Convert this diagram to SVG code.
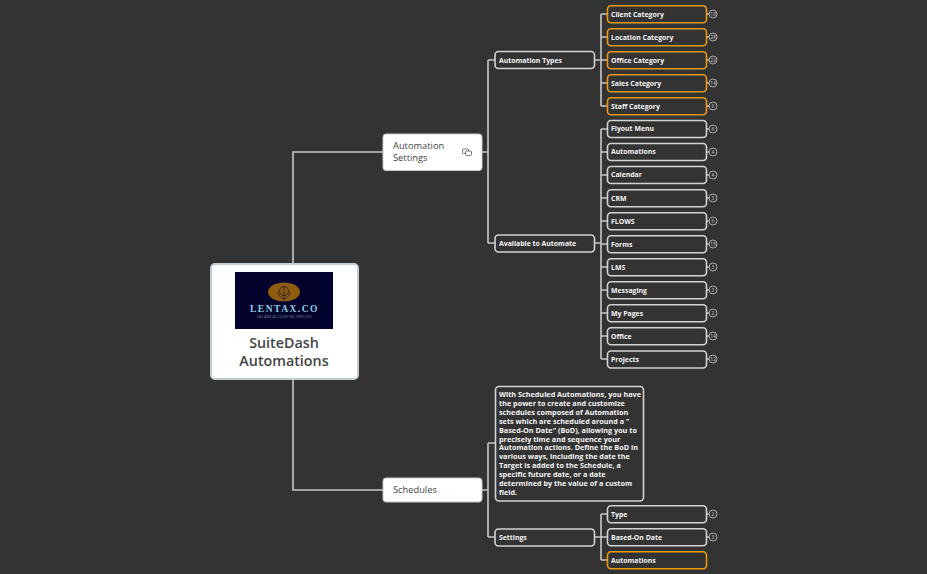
<svg xmlns="http://www.w3.org/2000/svg" width="927" height="574" viewBox="0 0 927 574">
<style>
text{font-family:"Open Sans","Noto Sans",sans-serif}
.c{fill:none;stroke:#c8c8c8;stroke-width:1.6}
.n{fill:#333;stroke:#d4d4d4;stroke-width:1.6}
.o{fill:#333;stroke:#f09a10;stroke-width:1.6}
.t{fill:#f6f6f6;font-size:6.9px;font-weight:700}
.d{fill:#f6f6f6;font-size:7.25px;font-weight:700}
.w{fill:#fff;stroke:#c8c8c8;stroke-width:1}
.m{fill:#444;font-size:9.3px}
.b{fill:#333;stroke:#c8c8c8;stroke-width:.8}
.bt{fill:#c8c8c8;font-size:5px;text-anchor:middle}
</style>
<rect width="927" height="574" fill="#333"/>
<g id="connectors" class="c">
<path d="M293 264V152H383M293 379V490H383"/>
<path d="M482 152H488M488 60V243M488 60H495M488 243H495"/>
<path d="M482 490H488M488 443V537M488 443H495M488 537H495"/>
<path d="M594 60H601M601 14V106M601 14H607M601 37H607M601 60H607M601 83H607M601 106H607"/>
<path d="M594 243H601M601 129V359M601 129H607M601 152H607M601 175H607M601 198H607M601 221H607M601 244H607M601 267H607M601 290H607M601 313H607M601 336H607M601 359H607"/>
<path d="M594 537H601M601 514V560M601 514H607M601 537H607M601 560H607"/>
<path d="M706 14H709M706 37H709M706 60H709M706 83H709M706 106H709M706 129H709M706 152H709M706 175H709M706 198H709M706 221H709M706 244H709M706 267H709M706 290H709M706 313H709M706 336H709M706 359H709M706 514H709M706 537H709"/>
</g>
<g id="root">
<rect x="211" y="264" width="147" height="115" rx="4" fill="#fff" stroke="#c4ccd4" stroke-width="2"/>
<rect x="235" y="272" width="98" height="57" fill="#03032e"/>
<ellipse cx="284" cy="292" rx="16" ry="9.500" fill="#8f5c0e"/>
<g fill="none" stroke="#1c1c3a" stroke-width=".8"><circle cx="284" cy="291" r="4.500"/><path d="M284 287V301M278 292C279 297 282 298 284 299C286 298 289 297 290 292"/></g>
<text x="284.500" y="311.500" font-size="9.500" fill="#8fd0e0" text-anchor="middle" style="font-family:'Liberation Serif',serif" font-weight="700" letter-spacing="1.500">LENTAX.CO</text>
<text x="284.500" y="317.500" font-size="2.600" fill="#8fa0b0" text-anchor="middle" letter-spacing=".55">TAX AND ACCOUNTING SERVICES</text>
<text x="284" y="348" font-size="14.300" font-weight="600" fill="#444" text-anchor="middle">SuiteDash</text>
<text x="284" y="366" font-size="14.300" font-weight="600" fill="#444" text-anchor="middle">Automations</text>
</g>
<g id="automation-settings">
<rect class="w" x="383" y="134" width="99" height="36.500" rx="3"/>
<text class="m" x="393" y="149.300">Automation</text>
<text class="m" x="393" y="161">Settings</text>
<g fill="none" stroke="#555" stroke-width=".8"><rect x="462.500" y="149" width="6" height="4.500" rx="1"/><rect x="465.500" y="151" width="6" height="4.500" rx="1" fill="#fff"/></g>
</g>
<g id="schedules">
<rect class="w" x="383" y="478" width="99" height="24" rx="3"/>
<text class="m" x="393" y="493.200">Schedules</text>
</g>
<g id="automation-types"><rect class="n" x="495" y="51.500" width="99.500" height="17" rx="3.500"/><text class="t" x="499" y="62.500">Automation Types</text></g>
<g id="available"><rect class="n" x="495" y="235" width="99.500" height="17" rx="3.500"/><text class="t" x="499" y="246">Available to Automate</text></g>
<g id="settings"><rect class="n" x="495" y="529" width="99.500" height="17" rx="3.500"/><text class="t" x="499" y="540">Settings</text></g>
<g id="description">
<rect class="n" x="495.500" y="386.500" width="148" height="114.500" rx="3.500"/>
<g class="d"><text x="499" y="397">With Scheduled Automations, you have</text>
<text x="499" y="406">the power to create and customize</text>
<text x="499" y="414.800">schedules composed of Automation</text>
<text x="499" y="423.700">sets which are scheduled around a "</text>
<text x="499" y="432.600">Based-On Date" (BoD), allowing you to</text>
<text x="499" y="441.500">precisely time and sequence your</text>
<text x="499" y="450.400">Automation actions. Define the BoD in</text>
<text x="499" y="459.300">various ways, including the date the</text>
<text x="499" y="468.200">Target is added to the Schedule, a</text>
<text x="499" y="477">specific future date, or a date</text>
<text x="499" y="486">determined by the value of a custom</text>
<text x="499" y="494.800">field.</text></g>
</g>
<g id="client"><rect class="o" x="607.500" y="5.800" width="99" height="17" rx="3.500"/><text class="t" x="611" y="16.600">Client Category</text><circle class="b" cx="713" cy="14" r="4"/><text class="bt" x="713" y="15.800">18</text></g>
<g id="location"><rect class="o" x="607.500" y="28.800" width="99" height="17" rx="3.500"/><text class="t" x="611" y="39.600">Location Category</text><circle class="b" cx="713" cy="37" r="4"/><text class="bt" x="713" y="38.800">28</text></g>
<g id="office-cat"><rect class="o" x="607.500" y="51.800" width="99" height="17" rx="3.500"/><text class="t" x="611" y="62.600">Office Category</text><circle class="b" cx="713" cy="60" r="4"/><text class="bt" x="713" y="61.800">22</text></g>
<g id="sales"><rect class="o" x="607.500" y="74.800" width="99" height="17" rx="3.500"/><text class="t" x="611" y="85.600">Sales Category</text><circle class="b" cx="713" cy="83" r="4"/><text class="bt" x="713" y="84.800">14</text></g>
<g id="staff"><rect class="o" x="607.500" y="97.800" width="99" height="17" rx="3.500"/><text class="t" x="611" y="108.600">Staff Category</text><circle class="b" cx="713" cy="106" r="4"/><text class="bt" x="713" y="107.800">6</text></g>
<g id="flyout"><rect class="n" x="607.500" y="120.500" width="99" height="17" rx="3.500"/><text class="t" x="611" y="131.300">Flyout Menu</text><circle class="b" cx="713" cy="129" r="4"/><text class="bt" x="713" y="130.800">6</text></g>
<g id="automations"><rect class="n" x="607.500" y="143.500" width="99" height="17" rx="3.500"/><text class="t" x="611" y="154.300">Automations</text><circle class="b" cx="713" cy="152" r="4"/><text class="bt" x="713" y="153.800">4</text></g>
<g id="calendar"><rect class="n" x="607.500" y="166.500" width="99" height="17" rx="3.500"/><text class="t" x="611" y="177.300">Calendar</text><circle class="b" cx="713" cy="175" r="4"/><text class="bt" x="713" y="176.800">4</text></g>
<g id="crm"><rect class="n" x="607.500" y="189.700" width="99" height="17" rx="3.500"/><text class="t" x="611" y="200.500">CRM</text><circle class="b" cx="713" cy="198" r="4"/><text class="bt" x="713" y="199.800">3</text></g>
<g id="flows"><rect class="n" x="607.500" y="212.700" width="99" height="17" rx="3.500"/><text class="t" x="611" y="223.500">FLOWS</text><circle class="b" cx="713" cy="221" r="4"/><text class="bt" x="713" y="222.800">6</text></g>
<g id="forms"><rect class="n" x="607.500" y="235.700" width="99" height="17" rx="3.500"/><text class="t" x="611" y="246.500">Forms</text><circle class="b" cx="713" cy="244" r="4"/><text class="bt" x="713" y="245.800">15</text></g>
<g id="lms"><rect class="n" x="607.500" y="258.700" width="99" height="17" rx="3.500"/><text class="t" x="611" y="269.600">LMS</text><circle class="b" cx="713" cy="267" r="4"/><text class="bt" x="713" y="268.800">3</text></g>
<g id="messaging"><rect class="n" x="607.500" y="281.800" width="99" height="17" rx="3.500"/><text class="t" x="611" y="292.600">Messaging</text><circle class="b" cx="713" cy="290" r="4"/><text class="bt" x="713" y="291.800">3</text></g>
<g id="mypages"><rect class="n" x="607.500" y="304.800" width="99" height="17" rx="3.500"/><text class="t" x="611" y="315.600">My Pages</text><circle class="b" cx="713" cy="313" r="4"/><text class="bt" x="713" y="314.800">2</text></g>
<g id="office"><rect class="n" x="607.500" y="327.800" width="99" height="17" rx="3.500"/><text class="t" x="611" y="338.600">Office</text><circle class="b" cx="713" cy="336" r="4"/><text class="bt" x="713" y="337.800">14</text></g>
<g id="projects"><rect class="n" x="607.500" y="351" width="99" height="17" rx="3.500"/><text class="t" x="611" y="361.700">Projects</text><circle class="b" cx="713" cy="359" r="4"/><text class="bt" x="713" y="360.800">12</text></g>
<g id="type"><rect class="n" x="607.500" y="505.800" width="99" height="17" rx="3.500"/><text class="t" x="611" y="516.600">Type</text><circle class="b" cx="713" cy="514" r="4"/><text class="bt" x="713" y="515.800">2</text></g>
<g id="bod"><rect class="n" x="607.500" y="528.800" width="99" height="17" rx="3.500"/><text class="t" x="611" y="539.600">Based-On Date</text><circle class="b" cx="713" cy="537" r="4"/><text class="bt" x="713" y="538.800">3</text></g>
<g id="sched-automations"><rect class="o" x="607.500" y="551.800" width="99" height="17" rx="3.500"/><text class="t" x="611" y="562.600">Automations</text></g>
</svg>
